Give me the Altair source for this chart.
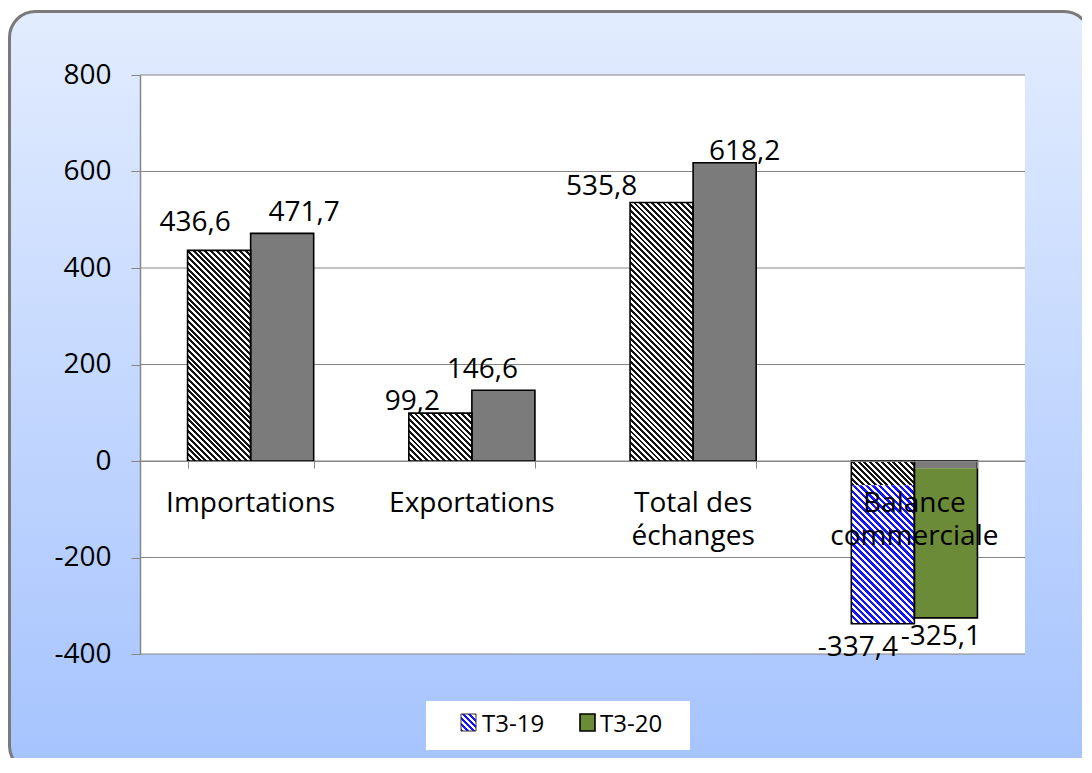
import altair as alt
import pandas as pd

# ---------------- data ----------------
categories = ["Importations", "Exportations", "Total des échanges", "Balance commerciale"]
category_text = ["Importations", "Exportations", "Total des\néchanges", "Balance\ncommerciale"]
series = ["T3-19", "T3-20"]
values_t3_19 = [436.6, 99.2, 535.8, -337.4]
values_t3_20 = [471.7, 146.6, 618.2, -325.1]
# upper part of the "Balance commerciale" bars is drawn in the grey pattern in the original
balance_grey_end = [-50.0, -15.0]
y_ticks = [-400, -200, 0, 200, 400, 600, 800]

# ---------------- layout / style ----------------
PW, PH = 885, 579
Y_DOM = [-400, 800]
FONT = "Open Sans"
FS = 28
GRAY = "#868686"
DOT_GRAY = "#7b7b7b"
GREEN = "#6b8b38"
BLUE = "#1414ff"

# label nudges (dx, dy) per (category index, series index) - Excel-like placement
label_nudge = {
    (0, 0): (-24, -19), (0, 1): (22, -12),
    (1, 0): (-28, -3), (1, 1): (-21, -12),
    (2, 0): (-60, -7), (2, 1): (20, -3),
    (3, 0): (-25, 32), (3, 1): (-5, 27),
}


def fmt(v):
    return f"{v:.1f}".replace(".", ",")


rows = []
for ci, c in enumerate(categories):
    for si, s in enumerate(series):
        v = [values_t3_19, values_t3_20][si][ci]
        rows.append({"cat": c, "series": s, "value": v, "start": 0.0, "label": fmt(v), "ci": ci, "si": si})
df = pd.DataFrame(rows)

step = PW / 4.0
bar_w = step * 0.57 / 2
px_per_unit = PH / (Y_DOM[1] - Y_DOM[0])


def stripes(w, h, dark, light, period, frac=0.5):
    L = w + h
    k = L / (w * w + h * h)
    p = period / L
    stops = []
    i = 0
    while i * p < 1:
        a = i * p
        b = min((i + frac) * p, 1.0)
        c = min((i + 1) * p, 1.0)
        stops.append(alt.GradientStop(offset=round(a, 5), color=dark))
        stops.append(alt.GradientStop(offset=round(b, 5), color=dark))
        if b < 1:
            stops.append(alt.GradientStop(offset=round(b, 5), color=light))
            stops.append(alt.GradientStop(offset=round(c, 5), color=light))
        i += 1
    return alt.Gradient(gradient="linear", x1=0, y1=1, x2=k * w, y2=1 - k * h, stops=stops)


x_scale = alt.Scale(domain=categories, paddingInner=0.43, paddingOuter=0.215)
xo_scale = alt.Scale(domain=series, paddingInner=0, paddingOuter=0)
y_scale = alt.Scale(domain=Y_DOM, nice=False, zero=False)

x_axis = alt.Axis(labels=False, title=None, grid=False, domain=True, domainColor=GRAY,
                  domainWidth=1, ticks=True, tickBand="extent", tickSize=7, tickColor=GRAY,
                  offset=-(PH - Y_DOM[1] * px_per_unit), zindex=1)
y_axis = alt.Axis(values=y_ticks, grid=False, title=None, domainColor=GRAY, domainWidth=1.5,
                  tickColor=GRAY, tickSize=9, tickWidth=1, labelFont=FONT, labelFontSize=FS,
                  labelColor="black", labelPadding=20, labelExpr="'' + datum.value", zindex=1)

X = lambda: alt.X("cat:N", scale=x_scale, axis=x_axis)
XO = lambda: alt.XOffset("series:N", scale=xo_scale)

layers = []

# background panel with gradient
bg_grad = alt.Gradient(gradient="linear", x1=0, y1=0, x2=0, y2=1,
                       stops=[alt.GradientStop(offset=0, color="#e2ecfe"),
                              alt.GradientStop(offset=1, color="#a5c3fe")])
one = pd.DataFrame({"a": [0]})
layers.append(alt.Chart(one).mark_rect(fill=bg_grad, stroke="#7a7a7a", strokeWidth=3, cornerRadius=26).encode(
    x=alt.value(-130.5), x2=alt.value(950), y=alt.value(-63.5), y2=alt.value(697)))
layers.append(alt.Chart(one).mark_rect(fill="white").encode(
    x=alt.value(0), x2=alt.value(PW), y=alt.value(0), y2=alt.value(PH)))

# gridlines + y axis
grid_df = pd.DataFrame({"v": y_ticks})
layers.append(alt.Chart(grid_df).mark_rule(color=GRAY, strokeWidth=1).encode(
    y=alt.Y("v:Q", scale=y_scale, axis=y_axis)))

# bars
for ci, c in enumerate(categories):
    for si, s in enumerate(series):
        v = [values_t3_19, values_t3_20][si][ci]
        segs = []
        if ci == 3:
            g = balance_grey_end[si]
            segs.append((0.0, g, "grey"))
            segs.append((g, v, "color"))
        else:
            segs.append((0.0, v, "grey"))
        for (a, b, kind) in segs:
            h = abs(b - a) * px_per_unit
            if si == 0:
                if kind == "grey":
                    fill = stripes(bar_w, h, "#151515", "#ffffff", 5.8)
                else:
                    fill = stripes(bar_w, h, BLUE, "#ffffff", 6.6)
            else:
                fill = DOT_GRAY if kind == "grey" else GREEN
            seg_df = pd.DataFrame({"cat": [c], "series": [s], "a": [a], "b": [b]})
            layers.append(alt.Chart(seg_df).mark_bar(fill=fill, strokeWidth=0).encode(
                x=X(), xOffset=XO(),
                y=alt.Y("a:Q", scale=y_scale, axis=y_axis),
                y2="b:Q"))

# outlines
layers.append(alt.Chart(df).mark_bar(fillOpacity=0, stroke="black", strokeWidth=1.6).encode(
    x=X(), xOffset=XO(),
    y=alt.Y("start:Q", scale=y_scale, axis=y_axis),
    y2="value:Q"))

# value labels
for (ci, si), (dx, dy) in label_nudge.items():
    layers.append(alt.Chart(df).transform_filter(
        (alt.datum.ci == ci) & (alt.datum.si == si)).mark_text(
        font=FONT, fontSize=FS, color="black", align="center", baseline="alphabetic", dx=dx, dy=dy).encode(
        x=X(), xOffset=XO(),
        y=alt.Y("value:Q", scale=y_scale, axis=y_axis),
        text="label:N"))

# category labels under the zero line
cat_df = pd.DataFrame({"cat": categories, "txt": category_text})
layers.append(alt.Chart(cat_df).mark_text(
    font=FONT, fontSize=FS, color="black", align="center", baseline="alphabetic",
    lineBreak="\n", lineHeight=33, dy=51).encode(
    x=X(),
    y=alt.Y(datum=0, scale=y_scale, axis=y_axis),
    text="txt:N"))

# legend
layers.append(alt.Chart(one).mark_rect(fill="white").encode(
    x=alt.value(286), x2=alt.value(550), y=alt.value(626), y2=alt.value(675)))
layers.append(alt.Chart(one).mark_rect(fill=stripes(15, 17, BLUE, "#ffffff", 6.0), stroke="#333333", strokeWidth=1).encode(
    x=alt.value(321), x2=alt.value(336), y=alt.value(639), y2=alt.value(656)))
layers.append(alt.Chart(one).mark_rect(fill=GREEN, stroke="black", strokeWidth=1.6).encode(
    x=alt.value(440), x2=alt.value(455), y=alt.value(639), y2=alt.value(656)))
for sx, s in zip([342, 460], series):
    layers.append(alt.Chart(pd.DataFrame({"s": [s]})).mark_text(
        font=FONT, fontSize=24, color="black", align="left", baseline="alphabetic").encode(
        x=alt.value(sx), y=alt.value(657), text="s:N"))

chart = alt.layer(*layers).properties(
    width=PW, height=PH,
    autosize=alt.AutoSizeParams(type="none"),
    padding={"left": 132, "top": 67, "right": 57, "bottom": 104},
    background="white",
).configure_view(strokeWidth=0)

chart.save("out.html", embed_options={"renderer": "svg", "actions": False})
